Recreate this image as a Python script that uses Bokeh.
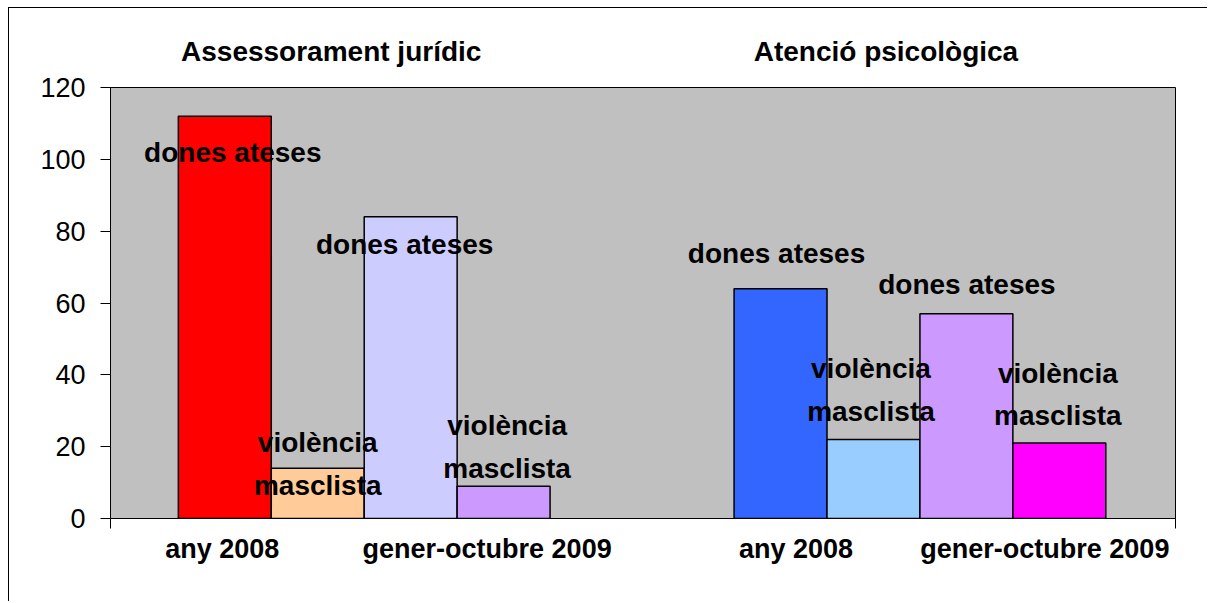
from bokeh.plotting import figure
from bokeh.models import ColumnDataSource, Range1d, FixedTicker, LinearAxis
from bokeh.core.properties import value
from bokeh.embed import file_html
from bokeh.resources import INLINE

# ---- data ----
SECTIONS = ["Assessorament jurídic", "Atenció psicològica"]
PERIODS = ["any 2008", "gener-octubre 2009"]
MEASURES = ["dones ateses", "violència\nmasclista"]
juridic_dones = [112, 84]
juridic_violencia = [14, 9]
psico_dones = [64, 57]
psico_violencia = [22, 21]
Y_TICKS = [0, 20, 40, 60, 80, 100, 120]

# ---- styles ----
BAR_COLORS = ["#FF0000", "#FFCC99", "#CCCCFF", "#CC99FF",
              "#3366FF", "#99CCFF", "#CC99FF", "#FF00FF"]
# label offsets in pixels (dx right, dy down from bar top)
LABEL_DX = [8, 0, -6, 3.5, -4, -2.5, 0.5, -1.5]
LABEL_DY = [36.5, -4, 28, -39, -35, -49.5, -29, -48.6]
PERIOD_LABEL_DX = [-49, 30, -31, 32]   # px, from pair centre
TITLE_DX = [-33, -34]                   # px, from section centre
GAP = 1.98
PAD_L, PAD_R = 0.73, 0.75
FONT = "Liberation Sans"
FRAME_W = 1065

series = [[juridic_dones, juridic_violencia], [psico_dones, psico_violencia]]
xs, tops, texts = [], [], []
for s in range(len(SECTIONS)):
    for p_i in range(len(PERIODS)):
        for m in range(len(MEASURES)):
            xs.append(s * (4 + GAP) + p_i * 2 + m + 0.5)
            tops.append(series[s][m][p_i])
            texts.append(MEASURES[m])

src = ColumnDataSource(dict(x=xs, top=tops, color=BAR_COLORS, text=texts,
                            dx=LABEL_DX, dy=LABEL_DY))

x_start = -PAD_L
x_end = 2 * 4 + GAP + PAD_R
px_per_unit = FRAME_W / (x_end - x_start)

p = figure(width=1199, height=594, x_range=Range1d(x_start, x_end),
           y_range=Range1d(0, 120), output_backend="svg", toolbar_location=None,
           min_border_left=101, min_border_top=79, min_border_right=33,
           min_border_bottom=84)
p.styles = {"margin-left": "8px", "margin-top": "7px",
            "border-left": "1px solid #000", "border-top": "1px solid #000"}
p.background_fill_color = "#C0C0C0"
p.border_fill_color = "white"
p.outline_line_color = "black"
p.outline_line_width = 1
p.xgrid.visible = False
p.ygrid.visible = False

p.vbar(x="x", top="top", bottom=0, width=1.0, fill_color="color",
       line_color="black", line_width=1.5, source=src)

p.text(x="x", y="top", text="text", x_offset="dx", y_offset="dy", source=src,
       text_font=value(FONT), text_font_size="28px", text_font_style="bold",
       text_align="center", text_baseline="middle", text_line_height=1.38,
       text_color="black")

# y axis
ya = p.yaxis[0]
ya.ticker = FixedTicker(ticks=Y_TICKS)
ya.axis_line_color = "black"
ya.major_tick_line_color = "black"
ya.major_tick_in = 0
ya.major_tick_out = 10
ya.minor_tick_line_color = None
ya.major_label_text_font = FONT
ya.major_label_text_font_size = "27px"
ya.major_label_text_color = "black"
ya.major_label_standoff = 15

# x axis (line + end ticks only)
xa = p.xaxis[0]
xa.ticker = FixedTicker(ticks=[x_start, x_end])
xa.axis_line_color = "black"
xa.major_tick_line_color = "black"
xa.major_tick_in = 0
xa.major_tick_out = 10
xa.minor_tick_line_color = None
xa.major_label_overrides = {x_start: "", x_end: ""}
xa.major_label_standoff = 0

# period labels as a second bottom axis
per_ticks, per_over = [], {}
k = 0
for s in range(len(SECTIONS)):
    for p_i, per in enumerate(PERIODS):
        t = s * (4 + GAP) + p_i * 2 + 1 + PERIOD_LABEL_DX[k] / px_per_unit
        per_ticks.append(t)
        per_over[t] = per
        k += 1
pa = LinearAxis(ticker=FixedTicker(ticks=per_ticks), major_label_overrides=per_over)
pa.axis_line_color = None
pa.major_tick_line_color = None
pa.minor_tick_line_color = None
pa.major_tick_in = 0
pa.major_tick_out = 0
pa.major_label_standoff = 5
pa.major_label_text_font = FONT
pa.major_label_text_font_size = "27px"
pa.major_label_text_font_style = "bold"
pa.major_label_text_color = "black"
p.add_layout(pa, "below")

# section titles as a top axis
tit_ticks, tit_over = [], {}
for s, name in enumerate(SECTIONS):
    t = s * (4 + GAP) + 2 + TITLE_DX[s] / px_per_unit
    tit_ticks.append(t)
    tit_over[t] = name
ta = LinearAxis(ticker=FixedTicker(ticks=tit_ticks), major_label_overrides=tit_over)
ta.axis_line_color = None
ta.major_tick_line_color = None
ta.minor_tick_line_color = None
ta.major_tick_in = 0
ta.major_tick_out = 0
ta.major_label_standoff = 21
ta.major_label_text_font = FONT
ta.major_label_text_font_size = "28px"
ta.major_label_text_font_style = "bold"
ta.major_label_text_color = "black"
p.add_layout(ta, "above")

open("out.html", "w").write(file_html(p, INLINE))
